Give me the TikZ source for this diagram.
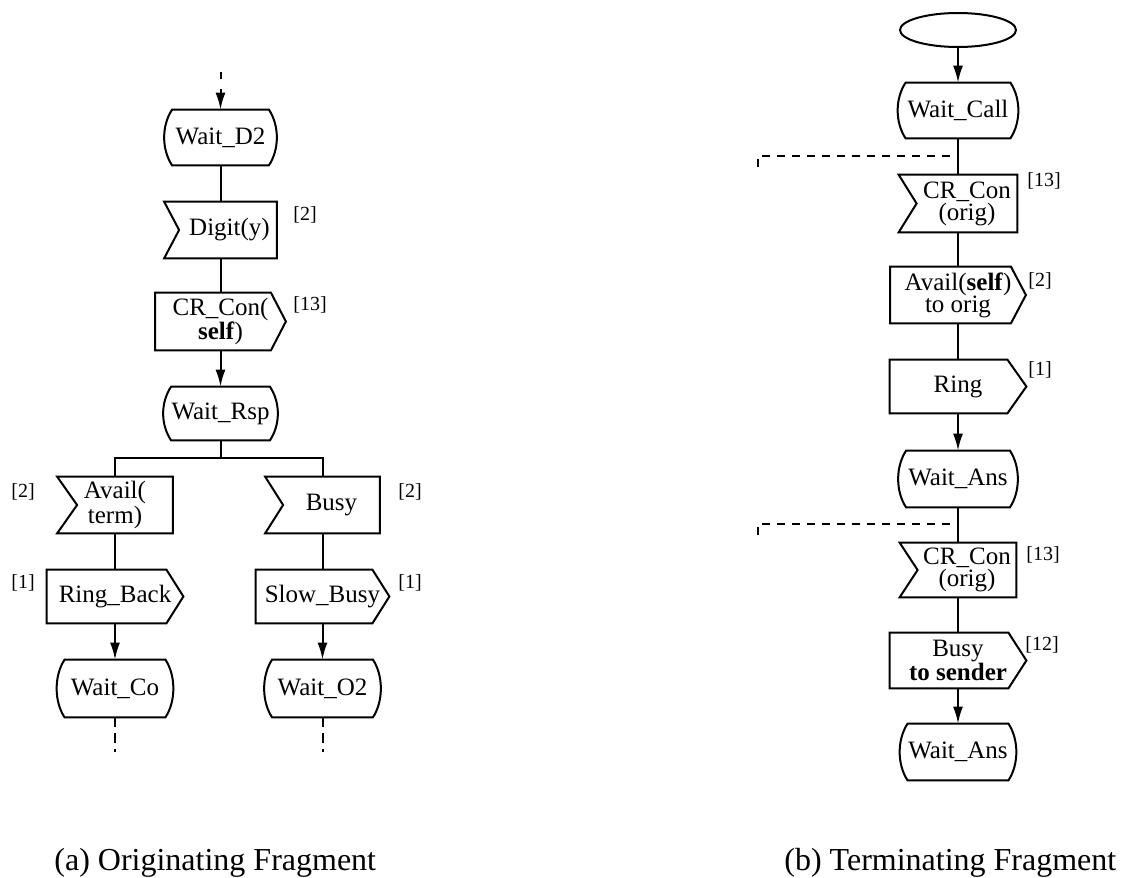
\documentclass[tikz,border=0pt]{standalone}
\usepackage{fontspec}
\setmainfont{Liberation Serif}
\usetikzlibrary{arrows.meta,shapes.geometric}
\newcommand\nkern{\hspace*{9pt}}
\newcommand\nfont{\fontsize{12.5}{11}\selectfont}
\newcommand\mkstate[1]{\draw[outl] ([xshift=4pt]#1.north west) -- ([xshift=-4pt]#1.north east) .. controls +(5.3pt,-8pt) and +(5.3pt,8pt) .. ([xshift=-4pt]#1.south east) -- ([xshift=4pt]#1.south west) .. controls +(-5.3pt,8pt) and +(-5.3pt,-8pt) .. ([xshift=4pt]#1.north west) -- cycle;}
\newcommand\mkinput[2][9pt]{\draw[outl] (#2.north west) -- (#2.north east) -- (#2.south east) -- (#2.south west) -- ([xshift=#1]#2.west) -- cycle;}
\newcommand\mkoutput[2][8.5pt]{\draw[outl] (#2.north west) -- ([xshift=-#1]#2.north east) -- (#2.east) -- ([xshift=-#1]#2.south east) -- (#2.south west) -- cycle;}
\tikzset{
  outl/.style={draw=black, line width=1pt, line join=miter},
  box/.style={inner sep=0pt, align=center, font=\nfont},
  conn/.style={draw=black, line width=1pt},
  arr/.style={conn, -{Latex[length=8.5pt,width=5pt]}},
  dline/.style={conn, dash pattern=on 4pt off 3.5pt},
  dvert/.style={conn, dash pattern=on 5pt off 3pt},
  tag/.style={inner sep=0pt, font=\fontsize{10}{12}\selectfont},
  captxt/.style={inner sep=0pt, anchor=base west, font=\fontsize{16}{19}\selectfont},
}
\begin{document}
\begin{tikzpicture}[x=0.5pt, y=-0.5pt]
\useasboundingbox (0,0) rectangle (1130,878);

% ---------- (a) Originating fragment ----------
\node[box, minimum width=56pt, minimum height=27.5pt] (wd2) at (220.5,137.5) {Wait\_D2};
\node[box, minimum width=56pt, minimum height=28pt] (digit) at (220.5,230) {\nkern Digit(y)};
\node[box, minimum width=65pt, minimum height=28.5pt] (crcon) at (220.5,321.5) {CR\_Con(\\\textbf{self})};
\node[box, minimum width=57pt, minimum height=26.5pt] (rsp) at (220.5,413.5) {Wait\_Rsp};
\node[box, minimum width=57.5pt, minimum height=28pt] (avail) at (115,505) {Avail(\\term)};
\node[box, minimum width=57pt, minimum height=28pt] (busy) at (322.5,505) {\nkern Busy};
\node[box, minimum width=68pt, minimum height=26.5pt] (ringback) at (115,596.5) {Ring\_Back};
\node[box, minimum width=66.5pt, minimum height=26.5pt] (slowbusy) at (322.5,596.5) {Slow\_Busy};
\node[box, minimum width=58pt, minimum height=28.5pt] (wco) at (115,688.5) {Wait\_Co};
\node[box, minimum width=58pt, minimum height=28.5pt] (wo2) at (322.5,688.5) {Wait\_O2};

\mkstate{wd2}
\mkinput[7.5pt]{digit}
\mkoutput[7.5pt]{crcon}
\mkstate{rsp}
\mkinput[10pt]{avail}
\mkinput{busy}
\mkoutput{ringback}
\mkoutput{slowbusy}
\mkstate{wco}
\mkstate{wo2}

\node[tag] (t1) at (305,215) {[2]};
\node[tag] (t2) at (310,305) {[13]};
\node[tag] (t3) at (23,492) {[2]};
\node[tag] (t4) at (410,492) {[2]};
\node[tag] (t5) at (23,583) {[1]};
\node[tag] (t6) at (410,583) {[1]};

\coordinate (in0) at (220.5,72);
\coordinate (br) at (220.5,458);
\coordinate (outa) at (115,752);
\coordinate (outb) at (322.5,752);
\draw[conn, dash pattern=on 3.5pt off 5pt, -{Latex[length=8.5pt,width=5pt]}] (in0) -- (wd2);
\draw[conn] (wd2) -- (digit);
\draw[conn] (digit) -- (crcon);
\draw[arr] (crcon) -- (rsp);
\draw[conn] (rsp) -- (br);
\draw[conn] (avail.north) |- (br) -| (busy.north);
\draw[conn] (avail) -- (ringback);
\draw[conn] (busy) -- (slowbusy);
\draw[arr] (ringback) -- (wco);
\draw[arr] (slowbusy) -- (wo2);
\draw[dvert] (wco) -- (outa);
\draw[dvert] (wo2) -- (outb);

% ---------- (b) Terminating fragment ----------
\node[draw, ellipse, line width=1pt, minimum width=58pt, minimum height=17pt, inner sep=0pt] (ell) at (958,30) {};
\node[box, minimum width=60pt, minimum height=27.5pt] (wcall) at (958,110.5) {Wait\_Call};
\node[box, minimum width=59pt, minimum height=28.5pt] (cr1) at (958,203.5) {\nkern CR\_Con\\\nkern (orig)};
\node[box, minimum width=67.5pt, minimum height=28pt] (avs) at (958,295) {Avail(\textbf{self})\\to orig};
\node[box, minimum width=68pt, minimum height=26.5pt] (ring) at (958,386.5) {Ring};
\node[box, minimum width=59.5pt, minimum height=28pt] (wans) at (958,479) {Wait\_Ans};
\node[box, minimum width=58pt, minimum height=27pt] (cr2) at (958,570) {\nkern CR\_Con\\\nkern (orig)};
\node[box, minimum width=68pt, minimum height=27.5pt] (busys) at (958,660.5) {Busy\\\textbf{to sender}};
\node[box, minimum width=58pt, minimum height=28pt] (wans2) at (958,752) {Wait\_Ans};

\mkstate{wcall}
\mkinput{cr1}
\mkoutput[7.5pt]{avs}
\mkoutput[9.5pt]{ring}
\mkstate{wans}
\mkinput{cr2}
\mkoutput[9pt]{busys}
\mkstate{wans2}

\node[tag] (u1) at (1044,181) {[13]};
\node[tag] (u2) at (1040,281) {[2]};
\node[tag] (u3) at (1040,370) {[1]};
\node[tag] (u4) at (1043,555) {[13]};
\node[tag] (u5) at (1042,645) {[12]};

\coordinate (j1) at (958,156);
\coordinate (e1) at (758,167);
\coordinate (j2) at (958,524);
\coordinate (e2) at (758,535);
\draw[arr] (ell) -- (wcall);
\draw[conn] (wcall) -- (cr1);
\draw[dline] (e1) |- (j1);
\draw[conn] (cr1) -- (avs);
\draw[conn] (avs) -- (ring);
\draw[arr] (ring) -- (wans);
\draw[conn] (wans) -- (cr2);
\draw[dline] (e2) |- (j2);
\draw[conn] (cr2) -- (busys);
\draw[arr] (busys) -- (wans2);

% ---------- captions ----------
\node[captxt] (capa) at (54,870) {(a) Originating Fragment};
\node[captxt] (capb) at (784,870) {(b) Terminating Fragment};
\end{tikzpicture}
\end{document}
